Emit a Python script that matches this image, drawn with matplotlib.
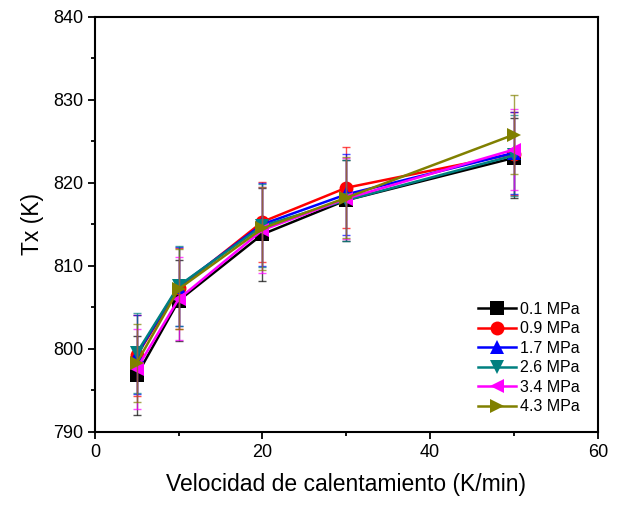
import matplotlib.pyplot as plt
import numpy as np

plt.rcParams['font.family'] = ['Liberation Sans', 'DejaVu Sans']

rates = [5, 10, 20, 30, 50]
labels = ['0.1 MPa', '0.9 MPa', '1.7 MPa', '2.6 MPa', '3.4 MPa', '4.3 MPa']
tx_01 = [796.8, 805.8, 813.8, 817.9, 823.0]
tx_09 = [799.2, 807.3, 815.3, 819.4, 823.5]
tx_17 = [799.3, 807.5, 815.0, 818.6, 823.6]
tx_26 = [799.5, 807.6, 814.8, 817.9, 823.3]
tx_34 = [797.6, 806.0, 814.3, 818.1, 824.0]
tx_43 = [798.3, 807.2, 814.5, 818.2, 825.8]
err_01 = [4.8, 4.9, 5.6, 4.9, 4.8]
err_09 = [4.9, 4.9, 4.8, 4.9, 5.0]
err_17 = [4.8, 4.8, 5.0, 4.9, 4.9]
err_26 = [4.8, 4.8, 5.0, 4.9, 4.9]
err_34 = [4.8, 5.0, 5.2, 4.9, 4.9]
err_43 = [4.7, 4.8, 5.0, 4.9, 4.8]

series = [tx_01, tx_09, tx_17, tx_26, tx_34, tx_43]
errors = [err_01, err_09, err_17, err_26, err_34, err_43]
colors = ['black', 'red', 'blue', '#008080', 'magenta', '#808000']
markers = ['s', 'o', '^', 'v', '<', '>']

fig = plt.figure(figsize=(6.24, 5.08), dpi=100)
ax = fig.add_axes([0.152, 0.150, 0.806, 0.817])

handles = []
for y, e, c, m, lab in zip(series, errors, colors, markers, labels):
    ax.errorbar(rates, y, yerr=e, fmt='none', ecolor=c, elinewidth=1,
                capsize=3, capthick=1, alpha=0.7)
    ln, = ax.plot(rates, y, color=c, marker=m, markersize=10, lw=1.8,
                  markeredgewidth=0, label=lab)
    handles.append(ln)

ax.set_xlim(0, 60)
ax.set_ylim(790, 840)
ax.set_xticks([0, 20, 40, 60])
ax.set_xticks([10, 30, 50], minor=True)
ax.set_yticks(np.arange(790, 841, 10))
ax.set_yticks(np.arange(795, 840, 10), minor=True)
ax.tick_params(which='major', direction='out', length=5, width=1.3, labelsize=13)
ax.tick_params(which='minor', direction='out', length=3, width=1.3)
for s in ax.spines.values():
    s.set_linewidth(1.5)

ax.set_xlabel('Velocidad de calentamiento (K/min)', fontsize=16.5, labelpad=9)
ax.set_ylabel('Tx (K)', fontsize=16.5, labelpad=6)

ax.legend(handles=handles, loc='lower right', frameon=False, fontsize=11.5,
          handlelength=2.4, handletextpad=0.25, labelspacing=0.28,
          borderaxespad=0.7)

fig.savefig('out.png', dpi=100)
